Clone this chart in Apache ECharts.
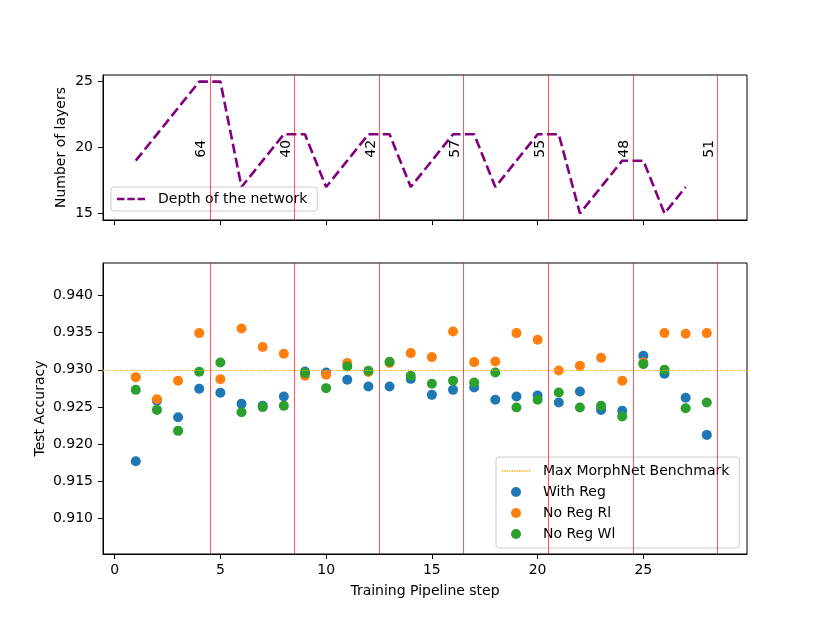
<!DOCTYPE html>
<html lang="en">
<head>
    <meta charset="UTF-8" />
    <title>Training pipeline</title>
    <script type="text/javascript" src="https://cdn.jsdelivr.net/npm/echarts@6.0.0/dist/echarts.min.js"></script>
    <style type="text/css">
        html, body { margin: 0; padding: 0; background: #fff; }
        #chart { width: 830px; height: 623px; }
    </style>
</head>
<body>
    <div id="chart"></div>

    <script type="text/javascript">
        // 数据
        var steps = [1, 2, 3, 4, 5, 6, 7, 8, 9, 10, 11, 12, 13, 14, 15, 16, 17, 18, 19, 20, 21, 22, 23, 24, 25, 26, 27, 28];
        var depthSteps = [1, 2, 3, 4, 5, 6, 7, 8, 9, 10, 11, 12, 13, 14, 15, 16, 17, 18, 19, 20, 21, 22, 23, 24, 25, 26, 27];
        var depth = [19, 21, 23, 25, 25, 17, 19, 21, 21, 17, 19, 21, 21, 17, 19, 21, 21, 17, 19, 21, 21, 15, 17, 19, 19, 15, 17];
        var withReg = [0.91772, 0.92584, 0.92364, 0.92745, 0.92691, 0.92543, 0.92516, 0.92641, 0.92978, 0.92964, 0.92866, 0.92776, 0.92776, 0.92879,
            0.92664, 0.92731, 0.92762, 0.92597, 0.92641, 0.92655, 0.92561, 0.92709, 0.92462, 0.92449, 0.93189, 0.92947, 0.92624, 0.92126];
        var noRegRl = [0.92902, 0.92606, 0.92853, 0.93494, 0.92875, 0.93556, 0.93306, 0.93216, 0.92920, 0.92933, 0.93091, 0.92970, 0.93091, 0.93225,
            0.93171, 0.93516, 0.93104, 0.93112, 0.93494, 0.93404, 0.92991, 0.93054, 0.93162, 0.92853, 0.93099, 0.93494, 0.93485, 0.93494];
        var noRegWl = [0.92731, 0.92462, 0.92180, 0.92974, 0.93099, 0.92431, 0.92499, 0.92516, 0.92956, 0.92754, 0.93045, 0.92987, 0.93108, 0.92920,
            0.92812, 0.92853, 0.92830, 0.92964, 0.92493, 0.92597, 0.92695, 0.92493, 0.92516, 0.92372, 0.93077, 0.93000, 0.92485, 0.92561];
        var benchmark = 0.92977;
        var vlineX = [4.5, 8.5, 12.5, 16.5, 20.5, 24.5, 28.5];
        var vlineLabels = ['64', '40', '42', '57', '55', '48', '51'];
        var labelY = 19.9;
        var xTicks = [0, 5, 10, 15, 20, 25];
        var depthTicks = [15, 20, 25];
        var accTicks = [0.910, 0.915, 0.920, 0.925, 0.930, 0.935, 0.940];

        var FONT = 'DejaVu Sans';
        // 图例里的虚线 / 点线图标
        var DASH_ICON = 'path://M0,0h7.5v2.6h-7.5z M10.3,0h7.5v2.6h-7.5z M20.6,0h7.4v2.6h-7.4z';
        var DOT_ICON = (function () {
            var s = 'path://';
            for (var i = 0; i < 12; i++) s += 'M' + (i * 2.4) + ',0h1.3v1.3h-1.3z ';
            return s;
        })();

        var chart = echarts.init(document.getElementById('chart'));

        function pairs(xs, ys) {
            var out = [];
            for (var i = 0; i < ys.length; i++) out.push([xs[i], ys[i]]);
            return out;
        }

        var vlineMark = {
            silent: true,
            symbol: ['none', 'none'],
            label: { show: false },
            lineStyle: { color: 'rgba(255,0,0,0.65)', width: 1, type: 'solid' },
            data: vlineX.map(function (x) { return { xAxis: x }; })
        };

        function xAxisCfg(gridIndex, showLabel) {
            return {
                type: 'value', gridIndex: gridIndex, min: -0.55, max: 29.9,
                name: showLabel ? 'Training Pipeline step' : '',
                nameLocation: 'middle', nameGap: 30,
                nameTextStyle: { color: '#000', fontFamily: FONT, fontSize: 14 },
                splitLine: { show: false },
                axisLine: { show: true, onZero: false, lineStyle: { color: '#000', width: 1 } },
                axisTick: { show: true, length: 5, customValues: xTicks, lineStyle: { color: '#000' } },
                axisLabel: { show: showLabel, customValues: xTicks, margin: 9, color: '#000', fontFamily: FONT, fontSize: 14 }
            };
        }

        function yAxisCfg(gridIndex, min, max, ticks, name, gap, fmt) {
            return {
                type: 'value', gridIndex: gridIndex, min: min, max: max,
                name: name, nameLocation: 'middle', nameGap: gap, nameMoveOverlap: false,
                nameTextStyle: { color: '#000', fontFamily: FONT, fontSize: 14 },
                splitLine: { show: false },
                axisLine: { show: true, onZero: false, lineStyle: { color: '#000', width: 1 } },
                axisTick: { show: true, length: 5, customValues: ticks, lineStyle: { color: '#000' } },
                axisLabel: { customValues: ticks, margin: 10, color: '#000', fontFamily: FONT, fontSize: 14, formatter: fmt }
            };
        }

        function scatter(name, data, color) {
            return {
                name: name, type: 'scatter', xAxisIndex: 1, yAxisIndex: 1,
                symbol: 'circle', symbolSize: 10,
                itemStyle: { color: color, opacity: 1 },
                data: pairs(steps, data)
            };
        }

        var legendBox = {
            orient: 'vertical',
            itemWidth: 28,
            backgroundColor: 'rgba(255,255,255,0.8)',
            borderColor: '#cccccc', borderWidth: 1, borderRadius: 3,
            textStyle: { color: '#000', fontFamily: FONT, fontSize: 14, padding: [0, 0, 0, 8] }
        };

        var option = {
            backgroundColor: '#fff',
            animation: false,
            grid: [
                { left: 103, top: 75, width: 644, height: 145, show: true, borderColor: '#000', borderWidth: 1 },
                { left: 103, top: 263, width: 644, height: 291, show: true, borderColor: '#000', borderWidth: 1 }
            ],
            legend: [
                echarts.util.extend({
                    left: 111, top: 187,
                    padding: [5, 10, 5, 6],
                    itemHeight: 14,
                    data: [{ name: 'Depth of the network', icon: DASH_ICON }]
                }, legendBox),
                echarts.util.extend({
                    left: 496, top: 457,
                    padding: [7, 10, 7, 6], itemGap: 7,
                    itemHeight: 10,
                    data: [
                        { name: 'Max MorphNet Benchmark', icon: DOT_ICON },
                        { name: 'With Reg', icon: 'circle' },
                        { name: 'No Reg Rl', icon: 'circle' },
                        { name: 'No Reg Wl', icon: 'circle' }
                    ]
                }, legendBox)
            ],
            xAxis: [xAxisCfg(0, false), xAxisCfg(1, true)],
            yAxis: [
                yAxisCfg(0, 14.5, 25.5, depthTicks, 'Number of layers', 35, function (v) { return v; }),
                yAxisCfg(1, 0.90525, 0.94436, accTicks, 'Test Accuracy', 56, function (v) { return v.toFixed(3); })
            ],
            series: [
                {
                    name: 'Depth of the network', type: 'line', xAxisIndex: 0, yAxisIndex: 0,
                    symbol: 'none',
                    lineStyle: { color: '#800080', width: 2.6, type: [10, 4.3] },
                    itemStyle: { color: '#800080' },
                    data: pairs(depthSteps, depth),
                    markLine: vlineMark,
                    z: 3
                },
                {
                    // 竖线上的旋转数字
                    type: 'custom', xAxisIndex: 0, yAxisIndex: 0, silent: true,
                    data: vlineX.map(function (x) { return [x, labelY]; }),
                    renderItem: function (params, api) {
                        var p = api.coord([api.value(0), api.value(1)]);
                        return {
                            type: 'text', x: p[0] - 8, y: p[1], rotation: Math.PI / 2,
                            style: {
                                text: vlineLabels[params.dataIndex], fill: '#000',
                                font: '14px ' + FONT, align: 'center', verticalAlign: 'middle'
                            }
                        };
                    },
                    z: 4
                },
                {
                    name: 'Max MorphNet Benchmark', type: 'line', xAxisIndex: 1, yAxisIndex: 1,
                    symbol: 'none',
                    lineStyle: { color: '#ffa500', width: 1.2, type: 'dotted' },
                    itemStyle: { color: '#ffa500' },
                    data: [],
                    markLine: {
                        silent: true, symbol: ['none', 'none'], label: { show: false },
                        lineStyle: { color: '#ffa500', width: 1.2, type: 'dotted' },
                        data: [{ yAxis: benchmark }]
                    }
                },
                {
                    type: 'line', xAxisIndex: 1, yAxisIndex: 1, data: [],
                    markLine: vlineMark
                },
                scatter('With Reg', withReg, '#1f77b4'),
                scatter('No Reg Rl', noRegRl, '#ff7f0e'),
                scatter('No Reg Wl', noRegWl, '#2ca02c')
            ]
        };
        chart.setOption(option);
    </script>
</body>
</html>
